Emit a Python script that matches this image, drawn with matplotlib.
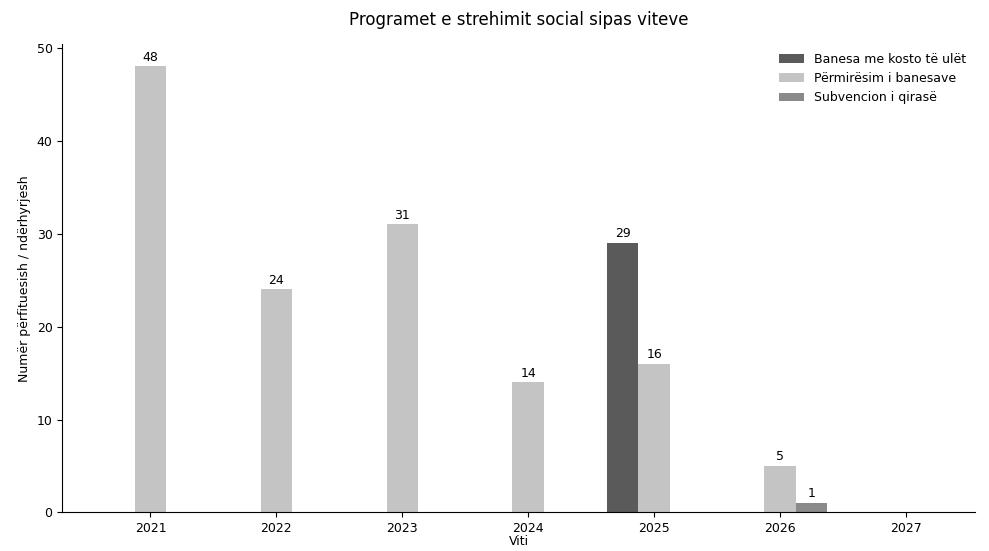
import numpy as np
import matplotlib
matplotlib.use("Agg")
import matplotlib.pyplot as plt

years = ["2021", "2022", "2023", "2024", "2025", "2026", "2027"]
banesa = [0, 0, 0, 0, 29, 0, 0]
permiresim = [48, 24, 31, 14, 16, 5, 0]
subvencion = [0, 0, 0, 0, 0, 1, 0]

series = [
    ("Banesa me kosto të ulët", banesa, "#5a5a5a"),
    ("Përmirësim i banesave", permiresim, "#c4c4c4"),
    ("Subvencion i qirasë", subvencion, "#8a8a8a"),
]

fig, ax = plt.subplots(figsize=(9.89, 5.51), dpi=100)
x = np.arange(len(years))
width = 0.25

for i, (name, vals, col) in enumerate(series):
    pos = x + (i - 1) * width
    bars = ax.bar(pos, vals, width, label=name, color=col)
    for b, v in zip(bars, vals):
        if v > 0:
            ax.text(b.get_x() + b.get_width() / 2, v + 0.3, str(v),
                    ha="center", va="bottom", fontsize=9)

ax.set_xticks(x)
ax.set_xticklabels(years)
ax.set_xlim(-0.7, 6.55)
ax.set_ylim(0, 50.4)
ax.set_xlabel("Viti", fontsize=9, labelpad=0)
ax.set_ylabel("Numër përfituesish / ndërhyrjesh", fontsize=9)
ax.set_title("Programet e strehimit social sipas viteve", fontsize=12, pad=14)
ax.tick_params(labelsize=9)
ax.spines["top"].set_visible(False)
ax.spines["right"].set_visible(False)
ax.legend(frameon=False, loc="upper right", fontsize=9, borderaxespad=0.3)

plt.subplots_adjust(left=0.063, right=0.986, top=0.92, bottom=0.07)
plt.savefig("out.png")
